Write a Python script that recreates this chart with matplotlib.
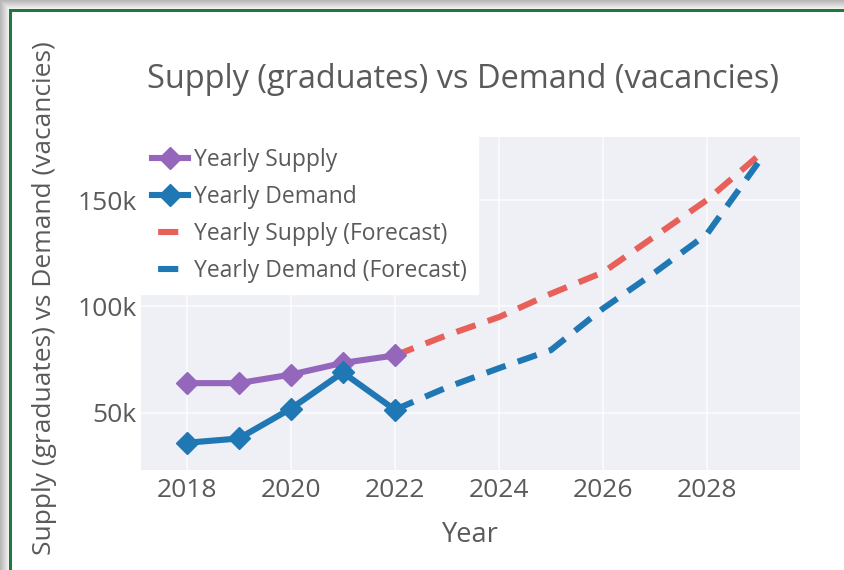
import matplotlib
matplotlib.use("Agg")
import matplotlib.pyplot as plt
from matplotlib.patches import Rectangle
from matplotlib.lines import Line2D
from matplotlib.ticker import FuncFormatter, FixedLocator

# ---- data ----
years_hist = [2018, 2019, 2020, 2021, 2022]
supply_hist = [64000, 64000, 68000, 73500, 77000]
demand_hist = [36000, 38000, 52000, 69000, 51500]

years_fc = [2022, 2023, 2024, 2025, 2026, 2027, 2028, 2029]
supply_fc = [77000, 86500, 95000, 106000, 116000, 133000, 150000, 171000]
demand_fc = [51500, 62000, 71000, 79500, 99000, 116000, 134000, 168000]

x_ticks = [2018, 2020, 2022, 2024, 2026, 2028]
y_ticks = [50000, 100000, 150000]

title = "Supply (graduates) vs Demand (vacancies)"
xlabel = "Year"
ylabel = "Supply (graduates) vs Demand (vacancies)"
labels = ["Yearly Supply", "Yearly Demand", "Yearly Supply (Forecast)", "Yearly Demand (Forecast)"]

# ---- style ----
W, H = 844, 570
FONT = ["Open Sans", "DejaVu Sans"]
TXT = "#5a5a5a"
PURPLE = "#9467bd"
BLUE = "#1f77b4"
RED = "#e8605a"
BG = "#eef0f6"

fig = plt.figure(figsize=(W / 100, H / 100), dpi=100)
fig.patch.set_facecolor("white")

# scanned-page shadow and green frame
for i in range(9):
    g = 0.72 + 0.028 * i
    fig.add_artist(Rectangle((i / W, 0), 1 / W, 1 - i / H, transform=fig.transFigure,
                             facecolor=(g, g, g), edgecolor="none", zorder=-5))
    fig.add_artist(Rectangle((i / W, 1 - (i + 1) / H), 1 - i / W, 1 / H, transform=fig.transFigure,
                             facecolor=(g, g, g), edgecolor="none", zorder=-5))
fig.add_artist(Rectangle((9 / W, 0), 3 / W, 1 - 9 / H, transform=fig.transFigure,
                         facecolor="#1d7a3c", edgecolor="none", zorder=-4))
fig.add_artist(Rectangle((9 / W, 1 - 12 / H), 1 - 9 / W, 3 / H, transform=fig.transFigure,
                         facecolor="#1d7a3c", edgecolor="none", zorder=-4))

ax = fig.add_axes([141 / W, 1 - 470 / H, (800 - 141) / W, (470 - 137) / H])
ax.set_facecolor(BG)
for s in ax.spines.values():
    s.set_visible(False)

lw = 4.4
DASH = (3.3, 2.1)
ax.plot(years_hist, supply_hist, color=PURPLE, lw=lw, marker="D", ms=11, zorder=3)
ax.plot(years_hist, demand_hist, color=BLUE, lw=lw, marker="D", ms=11, zorder=4)
ax.plot(years_fc, supply_fc, color=RED, lw=lw, dashes=DASH, zorder=2)
ax.plot(years_fc, demand_fc, color=BLUE, lw=lw, dashes=DASH, zorder=2)

ax.set_xlim(2017.12, 2029.79)
ax.set_ylim(23200, 179600)
ax.xaxis.set_major_locator(FixedLocator(x_ticks))
ax.yaxis.set_major_locator(FixedLocator(y_ticks))
ax.yaxis.set_major_formatter(FuncFormatter(lambda v, p: f"{int(v / 1000)}k"))
ax.grid(True, color="white", lw=1.2, alpha=0.8)
ax.set_axisbelow(True)
ax.tick_params(axis="x", length=0, labelsize=19, labelcolor=TXT, pad=6)
ax.tick_params(axis="y", length=0, labelsize=19, labelcolor=TXT, pad=3)
for t in ax.get_xticklabels() + ax.get_yticklabels():
    t.set_family(FONT)

ax.set_xlabel(xlabel, fontsize=19.5, color=TXT, family=FONT, labelpad=13)
fig.text(45 / W, 1 - 298 / H, ylabel, rotation=90, ha="center", va="center",
         fontsize=19, color=TXT, family=FONT)
fig.text(463 / W, 1 - 80 / H, title, ha="center", va="center",
         fontsize=23.4, color=TXT, family=FONT, fontweight="medium")

# legend handles (dashed ones shifted so a single centred dash shows)
handles = [
    Line2D([], [], color=PURPLE, lw=lw, marker="D", ms=11),
    Line2D([], [], color=BLUE, lw=lw, marker="D", ms=11),
    Line2D([], [], color=RED, lw=lw, linestyle=(DASH[0] + DASH[1] - 1.0, DASH)),
    Line2D([], [], color=BLUE, lw=lw, linestyle=(DASH[0] + DASH[1] - 1.0, DASH)),
]
leg = ax.legend(handles, labels, loc="upper left", bbox_to_anchor=(0, 1), frameon=True,
                fancybox=False, framealpha=1, edgecolor="white", facecolor="white",
                prop={"family": FONT, "size": 16.5}, labelcolor=TXT,
                handlelength=1.55, handletextpad=0.25, labelspacing=0.56,
                borderpad=0.5, borderaxespad=0)
leg.set_zorder(10)

fig.savefig("out.png", dpi=100)
